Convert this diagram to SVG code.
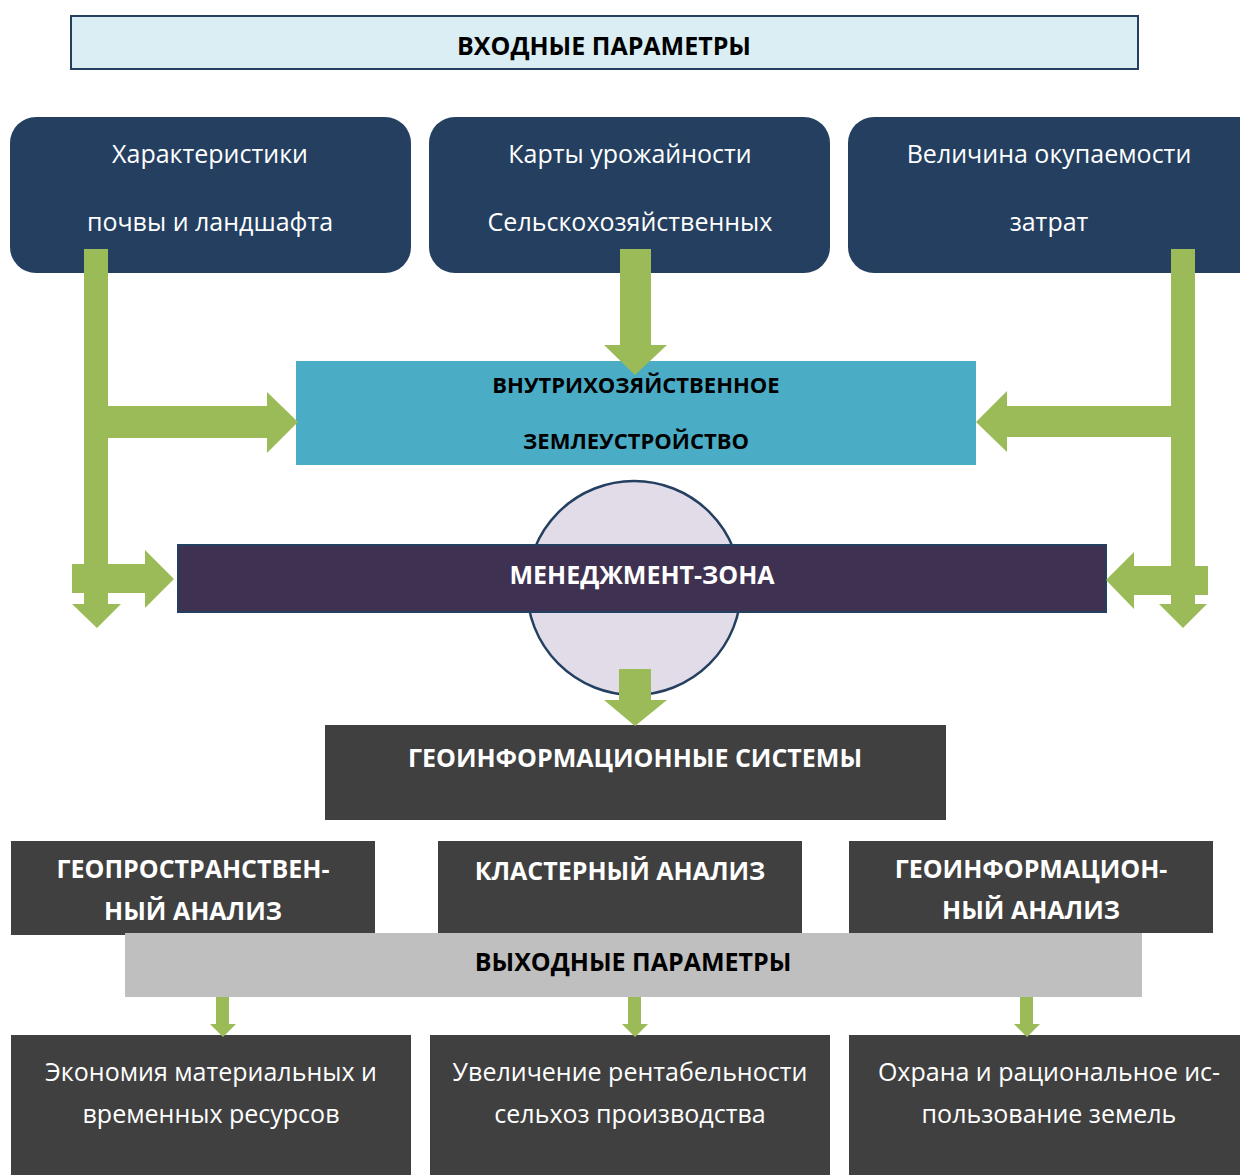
<svg xmlns="http://www.w3.org/2000/svg" width="1240" height="1175" viewBox="0 0 1240 1175">
<style>
text{font-family:"Open Sans","Noto Sans","Liberation Sans",sans-serif;text-anchor:middle}
.b{font-weight:bold;font-size:25px}
.s{font-size:22px}
.w{fill:#ffffff}
.k{fill:#000000}
.n{font-size:25px;fill:#ffffff}
.top{fill:#243F60}
.dk{fill:#404040}
.arr{fill:#9BBB59}
</style>
<g id="input">
<rect x="71" y="16" width="1067" height="53" fill="#DAEEF3" stroke="#243F60" stroke-width="2"/>
<text x="604" y="55" class="b k">ВХОДНЫЕ ПАРАМЕТРЫ</text>
</g>
<g id="soil">
<rect x="10" y="117" width="401" height="156" rx="26" class="top"/>
<text x="210" y="163" class="n">Характеристики</text>
<text x="210" y="231" class="n">почвы и ландшафта</text>
</g>
<g id="yield">
<rect x="429" y="117" width="401" height="156" rx="26" class="top"/>
<text x="630" y="163" class="n">Карты урожайности</text>
<text x="630" y="231" class="n">Сельскохозяйственных</text>
</g>
<g id="payback">
<rect x="848" y="117" width="420" height="156" rx="26" class="top"/>
<text x="1049" y="163" class="n">Величина окупаемости</text>
<text x="1049" y="231" class="n">затрат</text>
</g>
<g id="intrafarm">
<rect x="296" y="361" width="680" height="104" fill="#4BACC6"/>
<text x="636" y="393" class="b s k">ВНУТРИХОЗЯЙСТВЕННОЕ</text>
<text x="636" y="449" class="b s k">ЗЕМЛЕУСТРОЙСТВО</text>
</g>
<g id="circle">
<circle cx="634" cy="588" r="107" fill="#E1DCE8" stroke="#243F60" stroke-width="2.5"/>
</g>
<g id="mzone">
<rect x="178" y="545" width="928" height="67" fill="#3F3151" stroke="#243F60" stroke-width="2"/>
<text x="642" y="584" class="b w">МЕНЕДЖМЕНТ-ЗОНА</text>
</g>
<g id="gis">
<rect x="325" y="725" width="621" height="95" class="dk"/>
<text x="635" y="767" class="b w">ГЕОИНФОРМАЦИОННЫЕ СИСТЕМЫ</text>
</g>
<g id="geospatial">
<rect x="11" y="841" width="364" height="94" class="dk"/>
<text x="193" y="878" class="b w">ГЕОПРОСТРАНСТВЕН-</text>
<text x="193" y="920" class="b w">НЫЙ АНАЛИЗ</text>
</g>
<g id="cluster">
<rect x="438" y="841" width="364" height="92" class="dk"/>
<text x="620" y="880" class="b w">КЛАСТЕРНЫЙ АНАЛИЗ</text>
</g>
<g id="geoinfo">
<rect x="849" y="841" width="364" height="92" class="dk"/>
<text x="1031" y="878" class="b w">ГЕОИНФОРМАЦИОН-</text>
<text x="1031" y="919" class="b w">НЫЙ АНАЛИЗ</text>
</g>
<g id="output">
<rect x="125" y="933" width="1017" height="64" fill="#BFBFBF"/>
<text x="633" y="971" class="b k">ВЫХОДНЫЕ ПАРАМЕТРЫ</text>
</g>
<g id="economy">
<rect x="11" y="1035" width="400" height="140" class="dk"/>
<text x="211" y="1081" class="n">Экономия материальных и</text>
<text x="211" y="1123" class="n">временных ресурсов</text>
</g>
<g id="profit">
<rect x="430" y="1035" width="400" height="140" class="dk"/>
<text x="630" y="1081" class="n">Увеличение рентабельности</text>
<text x="630" y="1123" class="n">сельхоз производства</text>
</g>
<g id="protect">
<rect x="849" y="1035" width="391" height="140" class="dk"/>
<text x="1049" y="1081" class="n">Охрана и рациональное ис-</text>
<text x="1049" y="1123" class="n">пользование земель</text>
</g>
<g id="connectors" class="arr">
<!-- left -->
<rect x="84" y="249" width="24" height="355"/>
<polygon points="108,406 267,406 267,392 298,422 267,453 267,438 108,438"/>
<polygon points="72,564 145,564 145,550 174,579 145,608 145,593 72,593"/>
<polygon points="72,604 121,604 97,628"/>
<!-- right -->
<rect x="1171" y="249" width="24" height="355"/>
<polygon points="1171,406 1007,406 1007,391 976,422 1007,452 1007,437 1171,437"/>
<polygon points="1208,566 1134,566 1134,552 1106,580 1134,609 1134,595 1208,595"/>
<polygon points="1159,604 1207,604 1183,628"/>
<!-- center -->
<polygon points="620,249 651,249 651,345 667,345 635,375 604,345 620,345"/>
<polygon points="619,669 651,669 651,700 667,700 635,726 604,700 619,700"/>
<!-- small -->
<polygon points="216,997 229,997 229,1024 236,1024 223,1037 210,1024 216,1024"/>
<polygon points="628,997 641,997 641,1024 648,1024 635,1037 622,1024 628,1024"/>
<polygon points="1020,997 1033,997 1033,1024 1040,1024 1027,1037 1014,1024 1020,1024"/>
</g>
</svg>
